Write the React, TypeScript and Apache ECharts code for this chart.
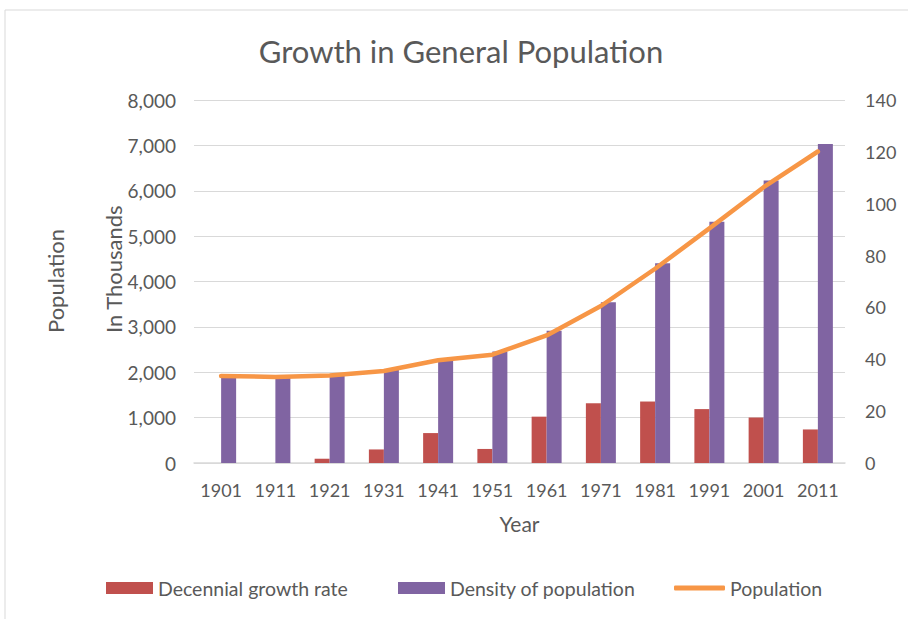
import React, { useEffect, useRef } from "react";
import * as echarts from "echarts";

const years = ["1901", "1911", "1921", "1931", "1941", "1951", "1961", "1971", "1981", "1991", "2001", "2011"];
const growthRate: (number | null)[] = [null, 0, 1.65, 5.23, 11.54, 5.42, 17.87, 23.04, 23.71, 20.79, 17.54, 12.94];
const density = [34, 33, 34, 36, 40, 43, 51, 62, 77, 93, 109, 123];
const population = [1920, 1897, 1928, 2029, 2263, 2386, 2812, 3460, 4281, 5171, 6078, 6865];

const FONT = "Lato";
const TXT = "#595959";

export default function App() {
  const ref = useRef<HTMLDivElement>(null);
  useEffect(() => {
    if (!ref.current) return;
    const chart = echarts.init(ref.current, undefined, { renderer: "svg" });
    const legendBase = {
      orient: "horizontal",
      itemWidth: 47,
      itemHeight: 12,
      top: 573,
      textStyle: { color: TXT, fontSize: 19.5, fontFamily: FONT },
      selectedMode: false,
    };
    chart.setOption({
      animation: false,
      backgroundColor: "#ffffff",
      textStyle: { fontFamily: FONT },
      title: {
        text: "Growth in General Population",
        left: 456,
        textAlign: "center",
        top: 30,
        textStyle: { color: TXT, fontSize: 31, fontWeight: "normal", fontFamily: FONT },
      },
      graphic: [
        {
          type: "rect",
          shape: { x: 5, y: 10, width: 920, height: 640 },
          style: { fill: "none", stroke: "#D9D9D9", lineWidth: 1 },
          silent: true,
        },
        {
          type: "text",
          x: 55,
          y: 333,
          rotation: Math.PI / 2,
          style: { text: "Population", fill: TXT, fontSize: 22, fontFamily: FONT, align: "left", verticalAlign: "middle" },
        },
        {
          type: "text",
          x: 113,
          y: 333,
          rotation: Math.PI / 2,
          style: { text: "In Thousands", fill: TXT, fontSize: 22, fontFamily: FONT, align: "left", verticalAlign: "middle" },
        },
      ],
      legend: [
        { ...legendBase, left: 101, data: [{ name: "Decennial growth rate", icon: "rect" }] },
        { ...legendBase, left: 393, data: [{ name: "Density of population", icon: "rect" }] },
        { ...legendBase, left: 669, itemWidth: 51, itemHeight: 5, data: [{ name: "Population", icon: "roundRect" }] },
      ],
      grid: { left: 194, right: 63, top: 100, bottom: 156, containLabel: false },
      xAxis: {
        type: "category",
        data: years,
        name: "Year",
        nameLocation: "middle",
        nameGap: 50,
        nameTextStyle: { color: TXT, fontSize: 21, fontFamily: FONT },
        axisLine: { lineStyle: { color: "#D9D9D9", width: 1.5 } },
        axisTick: { show: false },
        axisLabel: { color: TXT, fontSize: 18, fontFamily: FONT, margin: 18, interval: 0 },
      },
      yAxis: [
        {
          type: "value",
          min: 0,
          max: 8000,
          interval: 1000,
          axisLine: { show: false },
          axisTick: { show: false },
          splitLine: { lineStyle: { color: "#D9D9D9", width: 1 } },
          axisLabel: {
            color: TXT,
            fontSize: 19,
            fontFamily: FONT,
            margin: 18,
            formatter: (v: number) => v.toLocaleString("en-US"),
          },
        },
        {
          type: "value",
          min: 0,
          max: 140,
          interval: 20,
          axisLine: { show: false },
          axisTick: { show: false },
          splitLine: { show: false },
          axisLabel: { color: TXT, fontSize: 18, fontFamily: FONT, margin: 20 },
        },
      ],
      series: [
        {
          name: "Decennial growth rate",
          type: "bar",
          yAxisIndex: 1,
          data: growthRate,
          barWidth: 15,
          barGap: "0%",
          itemStyle: { color: "#C0504D" },
        },
        {
          name: "Density of population",
          type: "bar",
          yAxisIndex: 1,
          data: density,
          barWidth: 15,
          barGap: "0%",
          itemStyle: { color: "#8064A2" },
        },
        {
          name: "Population",
          type: "line",
          yAxisIndex: 0,
          data: population,
          showSymbol: false,
          symbol: "none",
          z: 5,
          lineStyle: { color: "#F79646", width: 4.5, cap: "round", join: "round" },
          itemStyle: { color: "#F79646" },
        },
      ],
    });
    return () => chart.dispose();
  }, []);
  return (
    <div
      ref={ref}
      style={{ position: "fixed", left: 0, top: 0, width: 908, height: 619 }}
    />
  );
}
